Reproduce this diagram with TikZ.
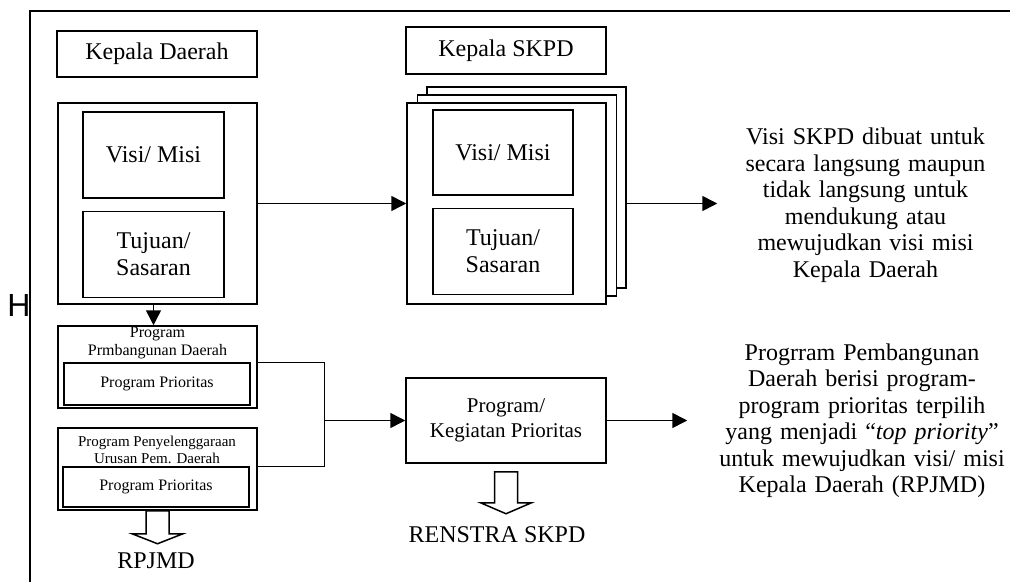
\documentclass[tikz,border=0pt]{standalone}
\usepackage{fontspec}
\setmainfont{Liberation Serif}
\setsansfont{Liberation Sans}
\usetikzlibrary{arrows.meta, positioning, calc}

\begin{document}
\begin{tikzpicture}[x=0.5pt, y=-0.5pt, >={Triangle[length=7.5pt, width=7.5pt]}, line width=0.75pt,
    kotak/.style={draw, fill=white, inner sep=2pt, align=center, font=\fontsize{12}{13.5}\selectfont},
    kotakkecil/.style={draw, fill=white, inner sep=1pt, align=center, font=\fontsize{8}{9}\selectfont},
    teks/.style={align=center, inner sep=0pt, text width=160pt, font=\fontsize{12}{13.25}\selectfont},
    blok/.style={draw, fill=white, line join=miter}]
    \useasboundingbox (0,0) rectangle (1010,582);

    % bingkai
    \draw[line width=1pt] (1012,11) -- (30,11) -- (30,584);
    \node[font=\fontsize{16}{19}\sffamily, inner sep=0pt] (huruf) at (19,305) {H};

    % Kepala Daerah
    \node[kotak, minimum width=100pt, minimum height=23pt] (kd) at (157,54) {Kepala Daerah};
    \node[kotak, minimum width=99.5pt, minimum height=100.5pt] (daerah) at (157.5,203.5) {};
    \node[kotak, minimum width=70.5pt, minimum height=43pt] (visi1) at (153.5,155) {Visi/ Misi};
    \node[kotak, minimum width=70.5pt, minimum height=43pt, below=6pt of visi1] (tujuan1) {Tujuan/\\Sasaran};

    % Kepala SKPD (tumpukan)
    \node[kotak, minimum width=100pt, minimum height=23.5pt] (skpd) at (506,50.5) {Kepala SKPD};
    \node[kotak, minimum width=99.5pt, minimum height=100.5pt] (back) at (526.5,187.5) {};
    \node[kotak, minimum width=99.5pt, minimum height=100.5pt] (mid) at (517,195.5) {};
    \node[kotak, minimum width=99.5pt, minimum height=100.5pt] (front) at (506.5,203.5) {};
    \node[kotak, minimum width=70pt, minimum height=42.5pt] (visi2) at (503,152.5) {Visi/ Misi};
    \node[kotak, minimum width=70pt, minimum height=43pt, below=6pt of visi2] (tujuan2) {Tujuan/\\Sasaran};

    % Program daerah
    \node[kotak, minimum width=99.5pt, minimum height=41pt] (ppd) at (157.5,367) {};
    \node[align=center, inner sep=0pt, font=\fontsize{8}{9}\selectfont] (ppdteks) at (157.5,342.5) {Program\\Prmbangunan Daerah};
    \node[kotakkecil, minimum width=93pt, minimum height=21pt] (pp1) at (157,384) {Program Prioritas};
    \node[kotak, minimum width=99.5pt, minimum height=41pt] (ppu) at (157.5,469) {};
    \node[align=center, inner sep=0pt, font=\fontsize{7.5}{8.75}\selectfont] (pputeks) at (157,450) {Program Penyelenggaraan\\Urusan Pem. Daerah};
    \node[kotakkecil, minimum width=93pt, minimum height=20pt] (pp2) at (156,487) {Program Prioritas};

    % Program/Kegiatan
    \node[kotak, minimum width=100pt, minimum height=42.5pt, font=\fontsize{10.5}{12.5}\selectfont] (kp) at (506,420.5) {Program/\\Kegiatan Prioritas};

    % keterangan
    \node[teks] (teks1) at (865.5,205) {Visi SKPD dibuat untuk\\secara langsung maupun\\tidak langsung untuk\\mendukung atau\\mewujudkan visi misi\\Kepala Daerah};
    \node[teks] (teks2) at (862,420.5) {Progrram Pembangunan\\Daerah berisi program-\\program prioritas terpilih\\yang menjadi “\textit{top priority}”\\untuk mewujudkan visi/ misi\\Kepala Daerah (RPJMD)};
    \node[inner sep=0pt, font=\fontsize{12}{14}\selectfont] (renstra) at (497,535) {RENSTRA SKPD};
    \node[inner sep=0pt, font=\fontsize{12}{14}\selectfont] (rpjmd) at (156,561) {RPJMD};

    % panah
    \draw[->] (daerah.east) -- (front.west);
    \draw[->] (back.east |- front.east) -- ([xshift=6.25pt]teks1.west |- front.east);
    \draw[->] (visi1.south |- daerah.south) -- (visi1.south |- ppd.north);
    \coordinate (gabung) at ([xshift=-40.5pt]kp.west);
    \draw (ppd.east |- pp1.north) -| (gabung) |- (ppu.east |- pp2.north);
    \draw[->] (gabung) -- (kp.west);
    \draw[->] (kp.east) -- ([xshift=-7pt]teks2.west |- kp.east);
    \draw[blok] ($(kp.south)+(-11.5,8)$) -- ++(0,31) -- ++(-14,0) -- ++(25.5,11) -- ++(25.5,-11) -- ++(-14,0) -- ++(0,-31) -- cycle;
    \draw[blok] ($(ppu.south)+(-11.5,0)$) -- ++(0,23) -- ++(-14,0) -- ++(25.5,10) -- ++(25.5,-10) -- ++(-14,0) -- ++(0,-23) -- cycle;
\end{tikzpicture}
\end{document}
